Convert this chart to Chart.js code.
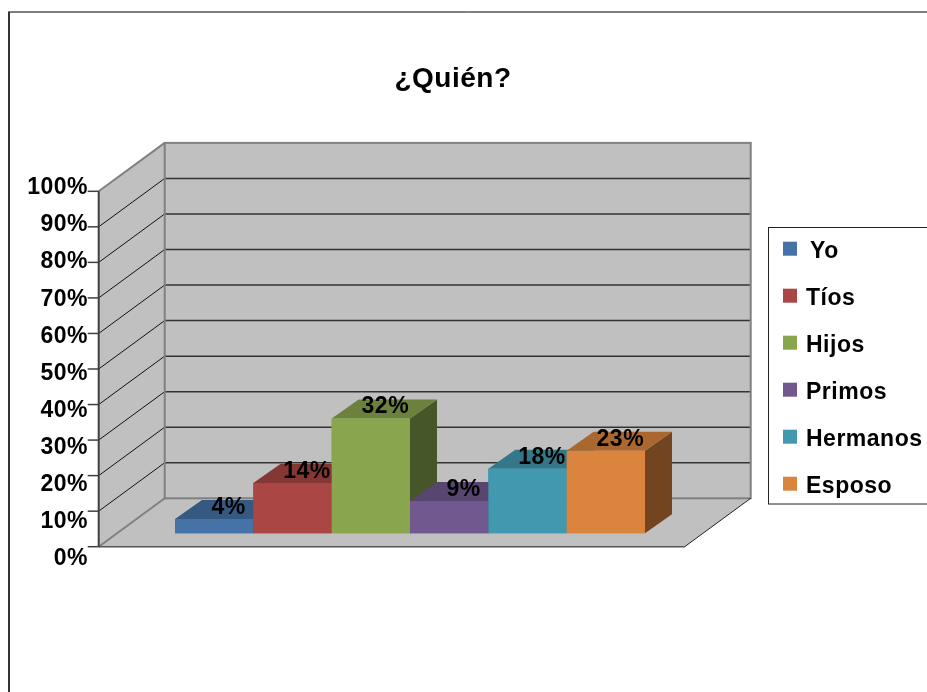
<!DOCTYPE html>
<html>
<head>
<meta charset="utf-8">
<title>¿Quién?</title>
<script src="https://cdn.jsdelivr.net/npm/chart.js@4.4.1/dist/chart.umd.min.js"></script>
<style>
  html, body { margin: 0; padding: 0; background: #fff; }
  canvas { display: block; }
</style>
</head>
<body>
<canvas id="chart" width="927" height="692"></canvas>
<script>
// chart data
const titleText = '¿Quién?';
const categories = ['Yo', 'Tíos', 'Hijos', 'Primos', 'Hermanos', 'Esposo'];
const values = [4, 14, 32, 9, 18, 23];
const colors = ['#4572a7', '#aa4643', '#89a54e', '#71588f', '#4198af', '#db843d'];
const yTicks = [0, 10, 20, 30, 40, 50, 60, 70, 80, 90, 100];

const FONT = "'Liberation Sans', Arial, sans-serif";
Chart.defaults.font.family = FONT;

// offsets of the fake 3D box, relative to the plane where the bar fronts sit
const FRONT = { dx: -18.3, dy: 13.4 };
const BACK = { dx: 47.7, dy: -35 };
const DEPTH = { dx: 27, dy: -19 };
const WALL_K = 0.99;

function shade(hex, f) {
    const n = parseInt(hex.slice(1), 16);
    const r = Math.round(((n >> 16) & 255) * f);
    const g = Math.round(((n >> 8) & 255) * f);
    const b = Math.round((n & 255) * f);
    return `rgb(${r},${g},${b})`;
}

function poly(ctx, pts, fill) {
    ctx.beginPath();
    ctx.moveTo(pts[0][0], pts[0][1]);
    for (let i = 1; i < pts.length; i++) ctx.lineTo(pts[i][0], pts[i][1]);
    ctx.closePath();
    ctx.fillStyle = fill;
    ctx.fill();
}

function line(ctx, x1, y1, x2, y2, color, w) {
    ctx.beginPath();
    ctx.moveTo(x1, y1);
    ctx.lineTo(x2, y2);
    ctx.strokeStyle = color;
    ctx.lineWidth = w;
    ctx.stroke();
}

// outer frame + a touch of letter spacing like the original export
const framePlugin = {
    id: 'frame',
    beforeDraw(chart) {
        const ctx = chart.ctx;
        ctx.letterSpacing = '0.5px';
        ctx.save();
        line(ctx, 8, 12, chart.width, 12, '#000', 1);
        line(ctx, 9, 12, 9, chart.height, '#333', 2);
        ctx.restore();
    }
};

// walls, floor, gridlines and the front axis
const wallsPlugin = {
    id: 'walls',
    beforeDatasetsDraw(chart) {
        const ctx = chart.ctx;
        const area = chart.chartArea;
        const ys = chart.scales.yBar;
        const y0 = ys.getPixelForValue(0);
        const unit = (y0 - ys.getPixelForValue(100)) * WALL_K;
        const fy = v => y0 + FRONT.dy - unit * v / 100;
        const by = v => y0 + BACK.dy - unit * v / 100;
        const fxL = area.left + FRONT.dx, fxR = area.right + FRONT.dx;
        const bxL = area.left + BACK.dx, bxR = area.right + BACK.dx;
        const top = yTicks[yTicks.length - 1];

        ctx.save();
        poly(ctx, [[fxL, fy(top)], [bxL, by(top)], [bxL, by(0)], [fxL, fy(0)]], '#c0c0c0');
        poly(ctx, [[bxL, by(top)], [bxR, by(top)], [bxR, by(0)], [bxL, by(0)]], '#c0c0c0');
        poly(ctx, [[fxL, fy(0)], [fxR, fy(0)], [bxR, by(0)], [bxL, by(0)]], '#c0c0c0');

        yTicks.forEach(v => {
            if (v === 0 || v === top) return;
            line(ctx, fxL, fy(v), bxL, by(v), '#111', 1);
            line(ctx, bxL, by(v), bxR, by(v), '#333', 1.5);
        });

        // wall edges
        line(ctx, fxL, fy(top), bxL, by(top), '#808080', 2);
        ctx.strokeStyle = '#808080';
        ctx.lineWidth = 2;
        ctx.strokeRect(bxL, by(top), bxR - bxL, by(0) - by(top));
        line(ctx, fxL, fy(0), bxL, by(0), '#808080', 2);
        // floor edges
        line(ctx, fxL, fy(0), fxR, fy(0), '#555', 1.5);
        line(ctx, fxR, fy(0), bxR, by(0), '#222', 1);
        // front axis with tick marks
        line(ctx, fxL, fy(top), fxL, fy(0), '#404040', 2);
        yTicks.forEach(v => line(ctx, fxL - 11, fy(v), fxL, fy(v), '#404040', 1.5));
        ctx.restore();
    }
};

// bar tops, sides and value labels, painted left to right
const barsPlugin = {
    id: 'bars3d',
    afterDatasetsDraw(chart) {
        const ctx = chart.ctx;
        const bars = [];
        chart.getSortedVisibleDatasetMetas().forEach(meta => {
            const ds = chart.data.datasets[meta.index];
            meta.data.forEach((el, i) => {
                const p = el.getProps(['x', 'y', 'base', 'width'], true);
                bars.push({ p, color: ds.backgroundColor, value: ds.data[i] });
            });
        });
        bars.sort((a, b) => a.p.x - b.p.x);

        ctx.save();
        bars.forEach(b => {
            const { x, y, base, width } = b.p;
            const l = x - width / 2, r = x + width / 2;
            poly(ctx, [[r, y], [r + DEPTH.dx, y + DEPTH.dy], [r + DEPTH.dx, base + DEPTH.dy], [r, base]], shade(b.color, 0.52));
            poly(ctx, [[l, y], [r, y], [r + DEPTH.dx, y + DEPTH.dy], [l + DEPTH.dx, y + DEPTH.dy]], shade(b.color, 0.78));
            poly(ctx, [[l, y], [r, y], [r, base], [l, base]], b.color);
        });

        ctx.fillStyle = '#000';
        ctx.font = `bold 23px ${FONT}`;
        ctx.textAlign = 'center';
        ctx.textBaseline = 'middle';
        bars.forEach(b => {
            const { x, y } = b.p;
            ctx.fillText(b.value + '%', x + DEPTH.dx / 2 + 1, y + DEPTH.dy / 2 - 2);
        });
        ctx.restore();
    }
};

// legend box at the right
const legendPlugin = {
    id: 'legendBox',
    afterDraw(chart) {
        const ctx = chart.ctx;
        const boxX = 768.5, boxY = 227.5, boxH = 276.5;
        const rowY = 250.7, rowGap = 47;
        ctx.save();
        ctx.strokeStyle = '#222';
        ctx.lineWidth = 1;
        ctx.strokeRect(boxX, boxY, chart.width - boxX + 5, boxH);
        ctx.font = `bold 23px ${FONT}`;
        ctx.textAlign = 'left';
        ctx.textBaseline = 'middle';
        chart.data.datasets.forEach((ds, i) => {
            const cy = rowY + i * rowGap;
            ctx.fillStyle = ds.backgroundColor;
            ctx.fillRect(783, cy - 9, 14, 14);
            ctx.fillStyle = '#000';
            ctx.fillText(ds.label, i === 0 ? 810 : 806, cy + 1);
        });
        ctx.restore();
    }
};

const datasets = categories.map((c, i) => ({
    label: c,
    data: [values[i]],
    backgroundColor: colors[i],
    yAxisID: 'yBar',
    categoryPercentage: 0.802,
    barPercentage: 1
}));

new Chart(document.getElementById('chart'), {
    type: 'bar',
    data: { labels: [''], datasets: datasets },
    options: {
        responsive: false,
        devicePixelRatio: 1,
        animation: false,
        layout: { padding: { left: 0, right: 21, top: 0, bottom: 133 } },
        plugins: {
            legend: { display: false },
            tooltip: { enabled: false },
            title: {
                display: true,
                text: titleText,
                color: '#000',
                font: { size: 28, weight: 'bold' },
                padding: { top: 62, bottom: 78.6 }
            }
        },
        scales: {
            x: { display: false },
            y: {
                position: 'left',
                min: 0,
                max: 103.7,
                grid: { display: false, drawTicks: false },
                border: { display: false },
                afterBuildTicks: s => { s.ticks = yTicks.map(v => ({ value: v })); },
                afterFit: s => { s.width = 117; },
                ticks: {
                    padding: 29,
                    color: '#000',
                    font: { size: 23, weight: 'bold' },
                    callback: v => v + '%'
                }
            },
            yBar: {
                position: 'right',
                min: -7.16,
                max: 100.03,
                grid: { display: false, drawTicks: false },
                border: { display: false },
                ticks: { display: false },
                afterFit: s => { s.width = 203; }
            }
        }
    },
    plugins: [framePlugin, wallsPlugin, barsPlugin, legendPlugin]
});
</script>
</body>
</html>
